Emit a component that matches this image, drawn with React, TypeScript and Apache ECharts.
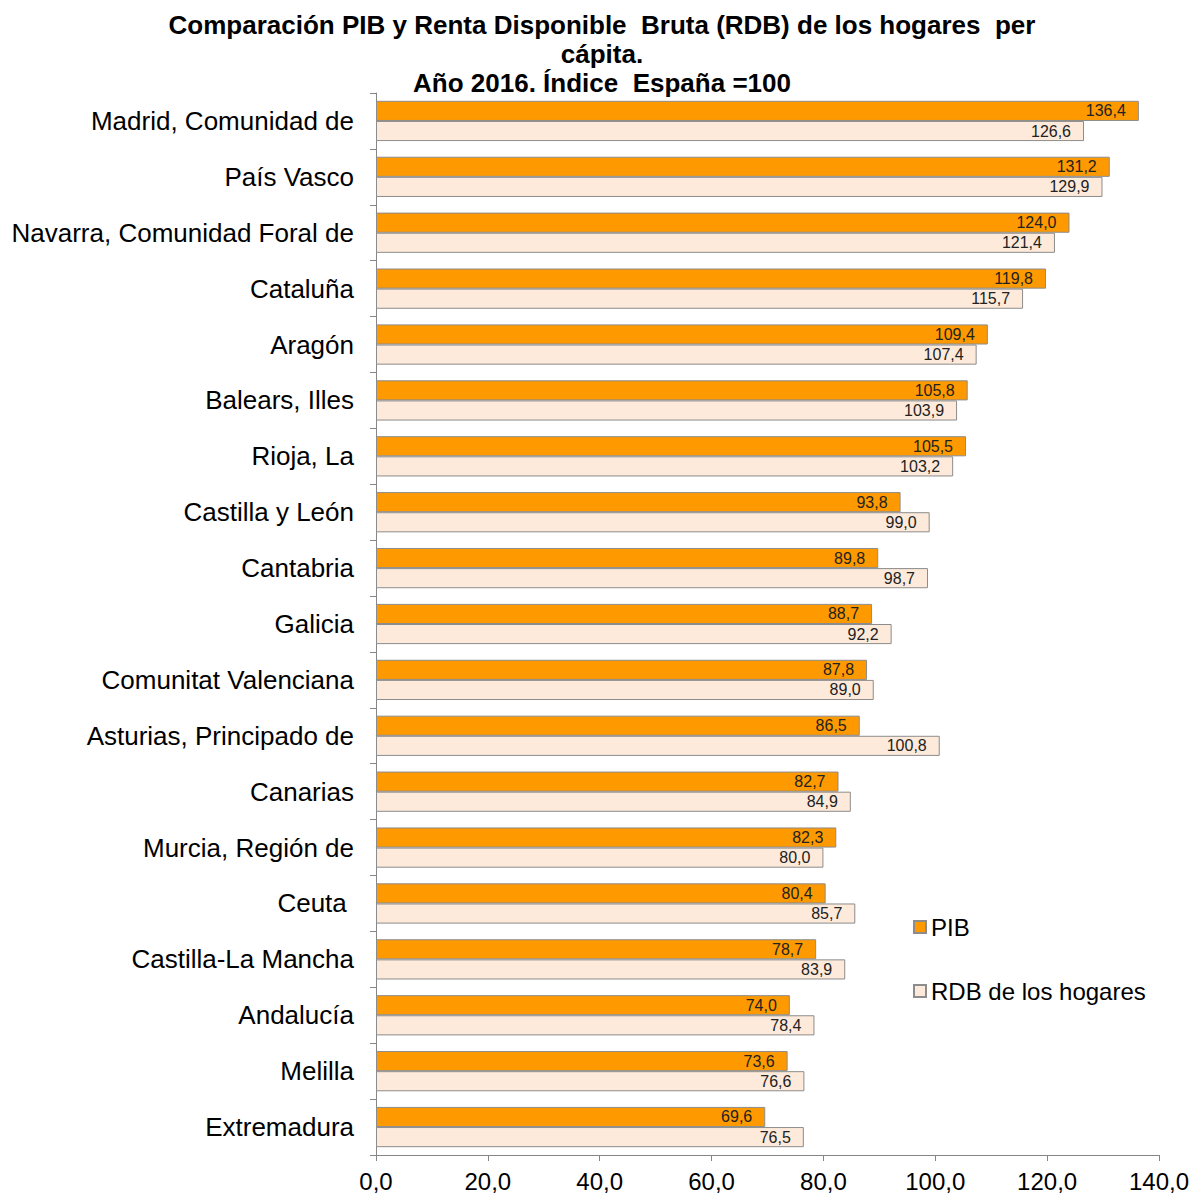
import React, { useEffect, useRef } from "react";
import * as echarts from "echarts";

const categories = [
  "Madrid, Comunidad de",
  "País Vasco",
  "Navarra, Comunidad Foral de",
  "Cataluña",
  "Aragón",
  "Balears, Illes",
  "Rioja, La",
  "Castilla y León",
  "Cantabria",
  "Galicia",
  "Comunitat Valenciana",
  "Asturias, Principado de",
  "Canarias",
  "Murcia, Región de",
  "Ceuta ",
  "Castilla-La Mancha",
  "Andalucía",
  "Melilla",
  "Extremadura",
];
const pib = [136.4, 131.2, 124.0, 119.8, 109.4, 105.8, 105.5, 93.8, 89.8, 88.7, 87.8, 86.5, 82.7, 82.3, 80.4, 78.7, 74.0, 73.6, 69.6];
const rdb = [126.6, 129.9, 121.4, 115.7, 107.4, 103.9, 103.2, 99.0, 98.7, 92.2, 89.0, 100.8, 84.9, 80.0, 85.7, 83.9, 78.4, 76.6, 76.5];
const seriesNames = ["PIB", "RDB de los hogares"];
const titleText = "Comparación PIB y Renta Disponible  Bruta (RDB) de los hogares  per\ncápita.\nAño 2016. Índice  España =100";

const fmt = (v: number) => v.toFixed(1).replace(".", ",");
const FONT = "'Liberation Sans', Arial, sans-serif";

export default function App() {
  const ref = useRef<HTMLDivElement>(null);
  useEffect(() => {
    if (!ref.current) return;
    const chart = echarts.init(ref.current, undefined, { renderer: "svg" });
    const labelCfg = {
      show: true,
      position: "insideRight" as const,
      distance: 13,
      color: "#222",
      fontSize: 16,
      fontFamily: FONT,
      formatter: (p: any) => fmt(p.value),
    };
    chart.setOption({
      animation: false,
      backgroundColor: "#ffffff",
      title: {
        text: titleText,
        left: 597,
        textAlign: "center",
        top: 5,
        textStyle: {
          fontFamily: FONT,
          fontSize: 26,
          fontWeight: "bold",
          color: "#000",
          lineHeight: 29,
        },
      },
      legend: {
        orient: "vertical",
        left: 908,
        top: 910,
        itemWidth: 12,
        itemHeight: 12,
        itemGap: 40,
        itemTextGap: 5,
        icon: "rect",
        textStyle: { fontFamily: FONT, fontSize: 24, color: "#000" },
        data: seriesNames,
      },
      grid: { left: 376, right: 33, top: 93, bottom: 38, containLabel: false },
      xAxis: {
        type: "value",
        min: 0,
        max: 140,
        interval: 20,
        axisLine: { show: true, lineStyle: { color: "#868686" } },
        axisTick: { show: true, length: 6, lineStyle: { color: "#868686" } },
        splitLine: { show: false },
        axisLabel: {
          fontFamily: FONT,
          fontSize: 24,
          color: "#000",
          margin: 14,
          formatter: (v: number) => fmt(v),
        },
      },
      yAxis: {
        type: "category",
        inverse: true,
        data: categories,
        axisLine: { show: true, lineStyle: { color: "#868686" } },
        axisTick: { show: true, length: 6, lineStyle: { color: "#868686" } },
        axisLabel: { fontFamily: FONT, fontSize: 26, color: "#000", margin: 22 },
      },
      series: [
        {
          name: seriesNames[0],
          type: "bar",
          data: pib,
          barGap: "0%",
          barCategoryGap: "28%",
          itemStyle: { color: "#FF9900", borderColor: "#8c8c8c", borderWidth: 1 },
          label: labelCfg,
        },
        {
          name: seriesNames[1],
          type: "bar",
          data: rdb,
          itemStyle: { color: "#FDEADB", borderColor: "#8c8c8c", borderWidth: 1 },
          label: labelCfg,
        },
      ],
    });
    return () => chart.dispose();
  }, []);
  return (
    <div
      ref={ref}
      style={{ position: "absolute", left: 0, top: 0, width: 1192, height: 1193 }}
    />
  );
}
